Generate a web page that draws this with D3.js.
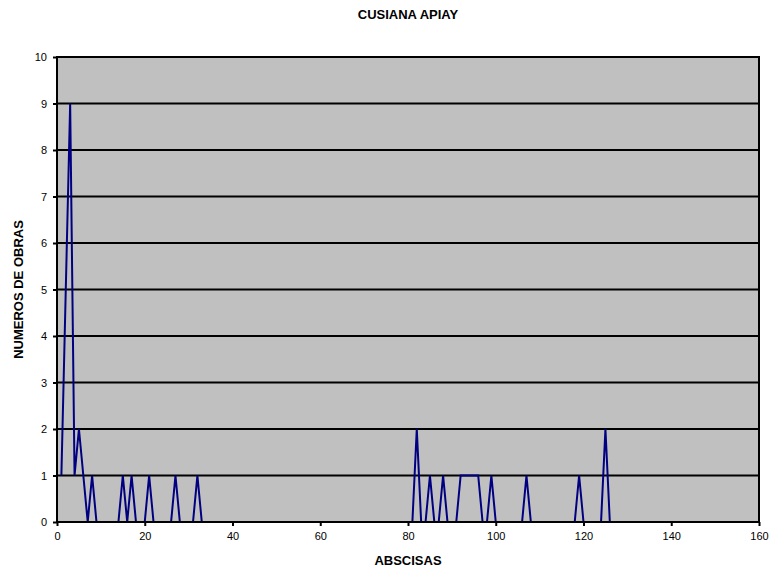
<!DOCTYPE html>
<html>
<head>
<meta charset="utf-8">
<script src="https://cdn.jsdelivr.net/npm/d3@7"></script>
<style>
  html, body { margin: 0; padding: 0; background: #fff; }
  svg { display: block; }
  text { font-family: "Liberation Sans", Arial, sans-serif; }
</style>
</head>
<body>
<svg id="chart" width="775" height="571"></svg>
<script>
// ---- data ----
const title = "CUSIANA APIAY";
const xLabel = "ABSCISAS";
const yLabel = "NUMEROS DE OBRAS";
const abscisas = [1, 2, 3, 4, 5, 6, 7, 8, 9,
  14, 15, 16, 17, 18,
  20, 21, 22,
  26, 27, 28,
  31, 32, 33,
  81, 82, 83,
  84, 85, 86,
  87, 88, 89,
  91, 92, 93, 94, 95, 96, 97,
  98, 99, 100,
  106, 107, 108,
  118, 119, 120,
  124, 125, 126];
const obras = [1, 5, 9, 1, 2, 1, 0, 1, 0,
  0, 1, 0, 1, 0,
  0, 1, 0,
  0, 1, 0,
  0, 1, 0,
  0, 2, 0,
  0, 1, 0,
  0, 1, 0,
  0, 1, 1, 1, 1, 1, 0,
  0, 1, 0,
  0, 1, 0,
  0, 1, 0,
  0, 2, 0];
const xTicks = [0, 20, 40, 60, 80, 100, 120, 140, 160];
const yTicks = [0, 1, 2, 3, 4, 5, 6, 7, 8, 9, 10];

// ---- layout ----
const svg = d3.select("#chart");
const pL = 57, pR = 759, pT = 57, pB = 522;

const x = d3.scaleLinear().domain([0, 160]).range([pL, pR]);
const y = d3.scaleLinear().domain([0, 10]).range([pB, pT]);

// plot background
svg.append("rect")
  .attr("x", pL).attr("y", pT)
  .attr("width", pR - pL).attr("height", pB - pT)
  .attr("fill", "#C0C0C0");

// gridlines
svg.append("g").selectAll("line")
  .data(yTicks.filter(d => d > 0 && d < 10))
  .join("line")
  .attr("x1", pL).attr("x2", pR)
  .attr("y1", d => y(d)).attr("y2", d => y(d))
  .attr("stroke", "#000").attr("stroke-width", 2);

// data line
const pts = abscisas.map((a, i) => [a, obras[i]]);
svg.append("path")
  .datum(pts)
  .attr("fill", "none")
  .attr("stroke", "#000080")
  .attr("stroke-width", 2)
  .attr("stroke-linejoin", "miter")
  .attr("d", d3.line().x(d => x(d[0])).y(d => y(d[1])));

// plot border
svg.append("rect")
  .attr("x", pL).attr("y", pT)
  .attr("width", pR - pL).attr("height", pB - pT)
  .attr("fill", "none").attr("stroke", "#000").attr("stroke-width", 2);

// axes
const xAxis = d3.axisBottom(x).tickValues(xTicks).tickSize(4).tickPadding(6).tickFormat(d3.format("d"));
const gx = svg.append("g").attr("transform", `translate(0,${pB})`).call(xAxis);
gx.select(".domain").remove();
gx.selectAll("line").attr("stroke", "#000").attr("stroke-width", 2);
gx.selectAll("text").attr("font-size", 11).attr("fill", "#000")
  .style("font-family", "'Liberation Sans', Arial, sans-serif");

const yAxis = d3.axisLeft(y).tickValues(yTicks).tickSize(4).tickPadding(6).tickFormat(d3.format("d"));
const gy = svg.append("g").attr("transform", `translate(${pL},0)`).call(yAxis);
gy.select(".domain").remove();
gy.selectAll("line").attr("stroke", "#000").attr("stroke-width", 2);
gy.selectAll("text").attr("font-size", 11).attr("fill", "#000")
  .style("font-family", "'Liberation Sans', Arial, sans-serif");

// titles
svg.append("text")
  .attr("x", 408).attr("y", 19)
  .attr("text-anchor", "middle")
  .attr("font-size", 13).attr("font-weight", "bold")
  .text(title);

svg.append("text")
  .attr("x", 408).attr("y", 565)
  .attr("text-anchor", "middle")
  .attr("font-size", 13).attr("font-weight", "bold")
  .text(xLabel);

svg.append("text")
  .attr("transform", `translate(23,${(pT + pB) / 2}) rotate(-90)`)
  .attr("text-anchor", "middle")
  .attr("font-size", 13).attr("font-weight", "bold")
  .text(yLabel);
</script>
</body>
</html>
